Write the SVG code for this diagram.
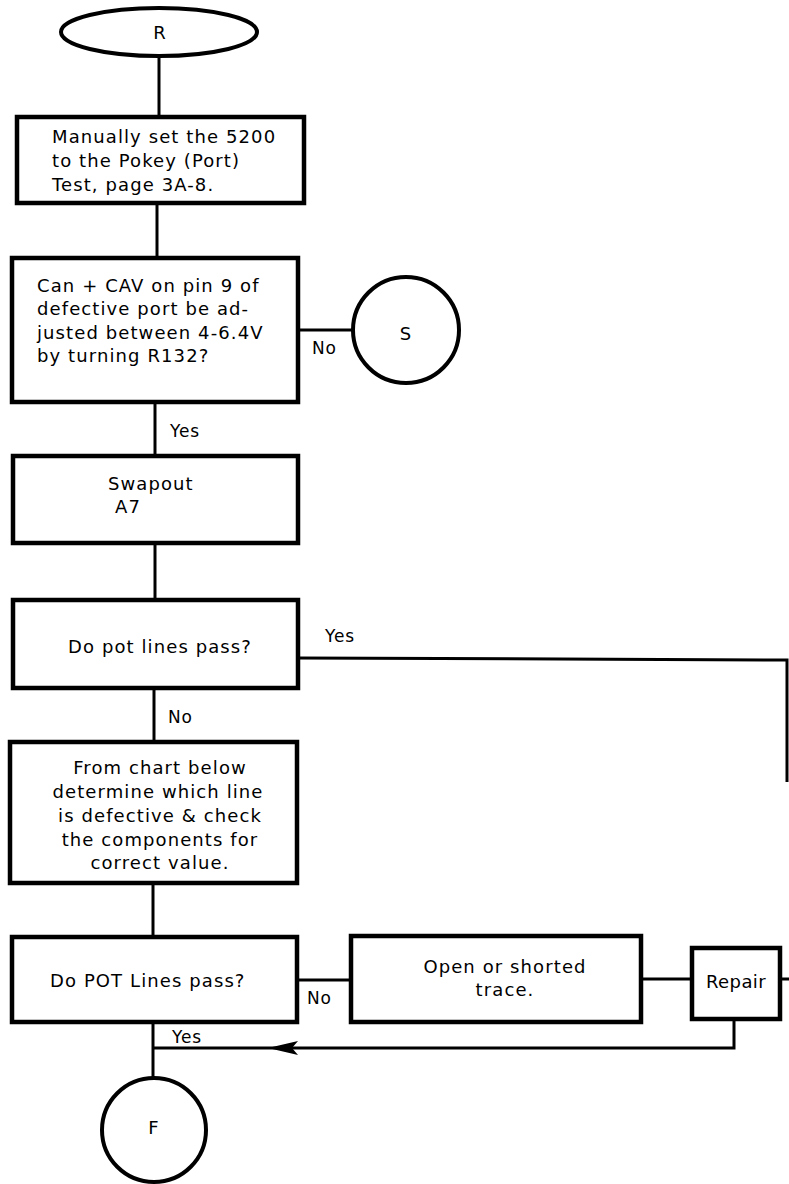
<svg xmlns="http://www.w3.org/2000/svg" width="789" height="1184" viewBox="0 0 789 1184">
<defs>
<style>
.box{fill:#fff;stroke:#000;stroke-width:4.5}
.circ{fill:#fff;stroke:#000;stroke-width:4}
.ln{fill:none;stroke:#000;stroke-width:3}
text{font-family:"DejaVu Sans","Liberation Sans",sans-serif;font-size:18px;letter-spacing:1.1px;fill:#000}
.c{text-anchor:middle}
.lbl{font-size:17px;letter-spacing:0.8px}
</style>
<marker id="arr" markerWidth="32" markerHeight="16" refX="31" refY="8" orient="auto" markerUnits="userSpaceOnUse">
<path d="M1,1 L31,8 L1,15 L7,8 Z" fill="#000"/>
</marker>
</defs>
<rect width="789" height="1184" fill="#fff"/>
<g id="connectors">
<line class="ln" x1="159" y1="56" x2="159" y2="117"/>
<line class="ln" x1="157" y1="203" x2="157" y2="258"/>
<line class="ln" x1="298" y1="330" x2="354" y2="330"/>
<line class="ln" x1="155" y1="402" x2="155" y2="457"/>
<line class="ln" x1="155" y1="543" x2="155" y2="600"/>
<polyline class="ln" points="298,658 787,660 787,782"/>
<line class="ln" x1="154" y1="688" x2="154" y2="742"/>
<line class="ln" x1="153" y1="883" x2="153" y2="937"/>
<line class="ln" x1="297" y1="980" x2="351" y2="980"/>
<line class="ln" x1="641" y1="979" x2="692" y2="979"/>
<line class="ln" x1="780" y1="979" x2="789" y2="979"/>
<polyline class="ln" points="734,1019 734,1048 268,1048" marker-end="url(#arr)"/>
<line class="ln" x1="268" y1="1048" x2="153" y2="1048"/>
<line class="ln" x1="153" y1="1022" x2="153" y2="1078"/>
<text class="lbl" x="312" y="354">No</text>
<text class="lbl" x="170" y="437">Yes</text>
<text class="lbl" x="325" y="642">Yes</text>
<text class="lbl" x="168" y="723">No</text>
<text class="lbl" x="307" y="1004">No</text>
<text class="lbl" x="172" y="1043">Yes</text>
</g>
<g id="start-R">
<ellipse class="circ" cx="159" cy="32" rx="98" ry="24"/>
<text class="c" x="160" y="39">R</text>
</g>
<g id="set-pokey">
<rect class="box" x="17" y="117" width="287" height="86"/>
<text x="52" y="143">Manually set the 5200</text>
<text x="52" y="167">to the Pokey (Port)</text>
<text x="52" y="191">Test, page 3A-8.</text>
</g>
<g id="adjust-cav">
<rect class="box" x="12" y="258" width="286" height="144"/>
<text x="37" y="292">Can + CAV on pin 9 of</text>
<text x="37" y="315">defective port be ad-</text>
<text x="37" y="339">justed between 4-6.4V</text>
<text x="37" y="362">by turning R132?</text>
</g>
<g id="connector-S">
<circle class="circ" cx="406" cy="330" r="53"/>
<text class="c" x="406" y="340">S</text>
</g>
<g id="swapout">
<rect class="box" x="13" y="456" width="285" height="87"/>
<text x="108" y="490">Swapout</text>
<text x="115" y="513">A7</text>
</g>
<g id="pot-pass-1">
<rect class="box" x="13" y="600" width="285" height="88"/>
<text x="68" y="653">Do pot lines pass?</text>
</g>
<g id="chart-check">
<rect class="box" x="10" y="742" width="287" height="141"/>
<text class="c" x="160" y="774">From chart below</text>
<text class="c" x="158" y="798">determine which line</text>
<text class="c" x="160" y="822">is defective &amp; check</text>
<text class="c" x="160" y="846">the components for</text>
<text class="c" x="160" y="869">correct value.</text>
</g>
<g id="pot-pass-2">
<rect class="box" x="12" y="937" width="285" height="85"/>
<text x="50" y="987">Do POT Lines pass?</text>
</g>
<g id="open-short">
<rect class="box" x="351" y="936" width="290" height="86"/>
<text class="c" x="505" y="973">Open or shorted</text>
<text class="c" x="505" y="996">trace.</text>
</g>
<g id="repair">
<rect class="box" x="692" y="948" width="88" height="71"/>
<text class="c" x="736" y="988" style="letter-spacing:0.4px">Repair</text>
</g>
<g id="end-F">
<circle class="circ" cx="154" cy="1130" r="52"/>
<text class="c" x="154" y="1134">F</text>
</g>
</svg>
